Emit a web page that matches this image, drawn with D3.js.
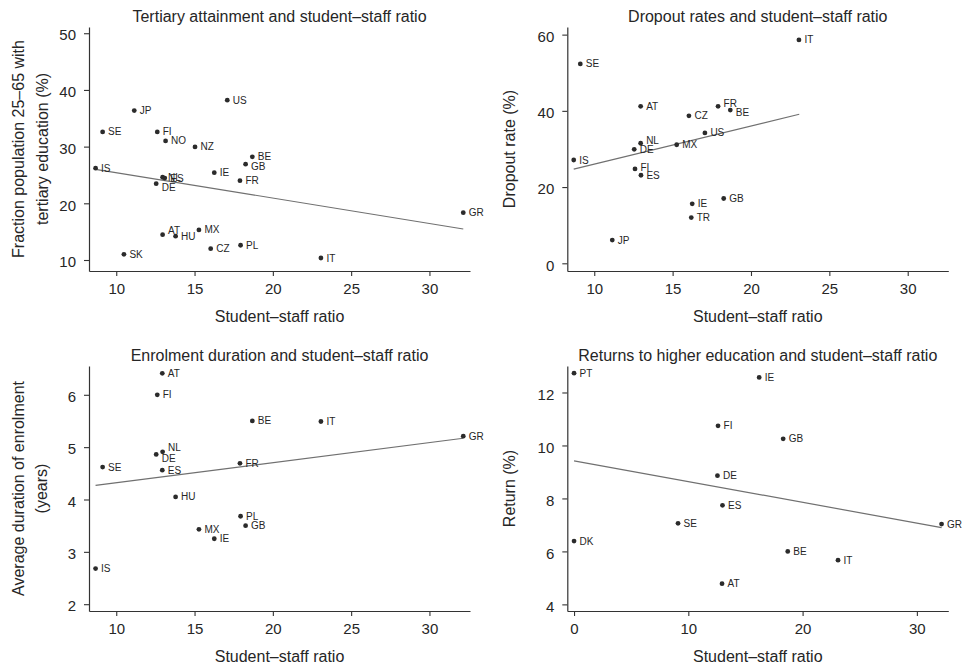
<!DOCTYPE html>
<html>
<head>
<meta charset="utf-8">
<script src="https://cdn.jsdelivr.net/npm/d3@7"></script>
<style>
  body { margin: 0; background: #fff; }
  svg { display: block; font-family: "Liberation Sans", Arial, sans-serif; }
</style>
</head>
<body>
<svg width="964" height="669"></svg>
<script>
const WIDTH = 964;
const HEIGHT = 669;

// Tertiary attainment vs student-staff ratio
const tertCodes = ["US", "JP", "SE", "FI", "NO", "NZ", "BE", "GB", "IS", "IE", "NL", "ES", "DE", "FR", "GR", "AT", "HU", "MX", "CZ", "PL", "SK", "IT"];
const tertRatio = [17.09, 11.15, 9.13, 12.62, 13.15, 15.03, 18.69, 18.26, 8.68, 16.26, 12.96, 13.1, 12.55, 17.90, 32.16, 12.96, 13.79, 15.28, 16.03, 17.94, 10.49, 23.07];
const tertShare = [38.2, 36.35, 32.6, 32.6, 31.0, 29.94, 28.2, 26.9, 26.2, 25.4, 24.6, 24.45, 23.46, 24.0, 18.35, 14.46, 14.2, 15.3, 12.0, 12.6, 11.0, 10.35];
const tertFit = [[8.68, 26.0], [32.16, 15.47]];

// Dropout rates
const dropCodes = ["IT", "SE", "AT", "FR", "BE", "CZ", "US", "NL", "MX", "DE", "IS", "FI", "ES", "GB", "IE", "TR", "JP"];
const dropRatio = [23.06, 9.11, 12.96, 17.90, 18.68, 16.04, 17.06, 12.96, 15.26, 12.55, 8.69, 12.60, 12.98, 18.26, 16.25, 16.19, 11.15];
const dropRate = [58.6, 52.3, 41.2, 41.2, 40.2, 38.7, 34.2, 31.5, 31.1, 29.9, 27.1, 24.75, 23.1, 17.0, 15.6, 12.0, 6.1];
const dropFit = [[8.69, 24.7], [23.08, 39.1]];

// Enrolment duration
const enrolCodes = ["AT", "FI", "BE", "IT", "GR", "NL", "DE", "SE", "ES", "FR", "HU", "PL", "GB", "MX", "IE", "IS"];
const enrolRatio = [12.94, 12.62, 18.69, 23.07, 32.16, 12.96, 12.55, 9.13, 12.94, 17.90, 13.79, 17.94, 18.26, 15.28, 16.26, 8.68];
const enrolYears = [6.41, 6.0, 5.5, 5.49, 5.21, 4.91, 4.86, 4.62, 4.56, 4.69, 4.05, 3.68, 3.5, 3.43, 3.25, 2.68];
const enrolFit = [[8.68, 4.27], [32.16, 5.17]];

// Returns to higher education
const retCodes = ["PT", "IE", "FI", "GB", "DE", "ES", "SE", "GR", "DK", "BE", "IT", "AT"];
const retRatio = [0, 16.2, 12.6, 18.3, 12.55, 12.99, 9.1, 32.16, 0, 18.7, 23.1, 12.95];
const retRate = [12.73, 12.57, 10.74, 10.25, 8.86, 7.74, 7.06, 7.03, 6.39, 6.0, 5.67, 4.78];
const retFit = [[0, 9.42], [32.16, 6.9]];

// tick labels
const ratioTicks = [10, 15, 20, 25, 30];
const ratioTicksWide = [0, 10, 20, 30];
const tertTicks = [10, 20, 30, 40, 50];
const dropTicks = [0, 20, 40, 60];
const enrolTicks = [2, 3, 4, 5, 6];
const retTicks = [4, 6, 8, 10, 12];

// marker labels sit right of the dot; these ones are nudged up or down (px of baseline)
const labelShift = {
    tert: {AT: -0.5, DE: 7.5, GB: 6},
    drop: {FR: 0.5, BE: 6, NL: 1, FI: 2},
    enrol: {NL: -0.5, DE: 7.5},
    ret: {}
};
const LABEL_DY = 3.5;

const LEFT_X = [89, 470];
const RIGHT_X = [567.3, 948.3];
const TOP_Y = [27, 271];
const BOTTOM_Y = [366, 611];

const panels = [
    {key: "tert", title: "Tertiary attainment and student\u2013staff ratio",
     ylabel: ["Fraction population 25\u201365 with", "tertiary education (%)"], ylabelX: [18.5, 42],
     codes: tertCodes, xs: tertRatio, ys: tertShare, fit: tertFit,
     xDomain: [8.26, 32.59], yDomain: [8.06, 51.1], xTicks: ratioTicks, yTicks: tertTicks,
     xr: LEFT_X, yr: TOP_Y},
    {key: "drop", title: "Dropout rates and student\u2013staff ratio",
     ylabel: ["Dropout rate (%)"], ylabelX: [509],
     codes: dropCodes, xs: dropRatio, ys: dropRate, fit: dropFit,
     xDomain: [8.28, 32.59], yDomain: [-2.02, 62.0], xTicks: ratioTicks, yTicks: dropTicks,
     xr: RIGHT_X, yr: TOP_Y},
    {key: "enrol", title: "Enrolment duration and student\u2013staff ratio",
     ylabel: ["Average duration of enrolment", "(years)"], ylabelX: [18.5, 41],
     codes: enrolCodes, xs: enrolRatio, ys: enrolYears, fit: enrolFit,
     xDomain: [8.26, 32.59], yDomain: [1.87, 6.55], xTicks: ratioTicks, yTicks: enrolTicks,
     xr: LEFT_X, yr: BOTTOM_Y},
    {key: "ret", title: "Returns to higher education and student\u2013staff ratio",
     ylabel: ["Return (%)"], ylabelX: [509],
     codes: retCodes, xs: retRatio, ys: retRate, fit: retFit,
     xDomain: [-0.59, 32.75], yDomain: [3.75, 13.0], xTicks: ratioTicksWide, yTicks: retTicks,
     xr: RIGHT_X, yr: BOTTOM_Y}
];

var svg = d3.select("svg")
    .attr("viewBox", `0 0 ${WIDTH} ${HEIGHT}`);

const INK = "#262626";

function styleAxis(sel) {
    sel.select(".domain").attr("stroke", "#333").attr("stroke-width", 1.2);
    sel.selectAll(".tick line").attr("stroke", "#333").attr("stroke-width", 1.1);
    sel.selectAll(".tick text")
        .attr("fill", INK)
        .style("font-size", "15px");
}

panels.forEach(p => {
    let x = d3.scaleLinear().domain(p.xDomain).range(p.xr);
    let y = d3.scaleLinear().domain(p.yDomain).range([p.yr[1], p.yr[0]]);
    let g = svg.append("g").attr("class", "panel-" + p.key);
    let cx = (p.xr[0] + p.xr[1]) / 2;
    let cy = (p.yr[0] + p.yr[1]) / 2;

    // title
    g.append("text")
        .attr("x", cx)
        .attr("y", p.yr[0] - 5)
        .attr("text-anchor", "middle")
        .attr("fill", INK)
        .style("font-size", "16px")
        .text(p.title);

    // axes
    let xAxis = g.append("g")
        .attr("transform", `translate(0,${p.yr[1]})`)
        .call(d3.axisBottom(x).tickValues(p.xTicks).tickFormat(d3.format("d"))
            .tickSize(5).tickSizeOuter(0).tickPadding(7));
    styleAxis(xAxis);

    let yAxis = g.append("g")
        .attr("transform", `translate(${p.xr[0]},0)`)
        .call(d3.axisLeft(y).tickValues(p.yTicks).tickFormat(d3.format("d"))
            .tickSize(5).tickSizeOuter(0).tickPadding(8));
    styleAxis(yAxis);
    yAxis.selectAll(".tick text").attr("dy", "0.45em");

    // axis titles
    g.append("text")
        .attr("x", cx)
        .attr("y", p.yr[1] + 51)
        .attr("text-anchor", "middle")
        .attr("fill", INK)
        .style("font-size", "16px")
        .text("Student\u2013staff ratio");

    p.ylabel.forEach((line, i) => {
        g.append("text")
            .attr("transform", `translate(${p.ylabelX[i]},${cy}) rotate(-90)`)
            .attr("dy", "0.35em")
            .attr("text-anchor", "middle")
            .attr("fill", INK)
            .style("font-size", "16px")
            .text(line);
    });

    // fitted line
    g.append("line")
        .attr("x1", x(p.fit[0][0]))
        .attr("y1", y(p.fit[0][1]))
        .attr("x2", x(p.fit[1][0]))
        .attr("y2", y(p.fit[1][1]))
        .attr("stroke", "#707070")
        .attr("stroke-width", 1.2);

    let pts = p.codes.map((c, i) => ({code: c, x: p.xs[i], y: p.ys[i]}));

    g.selectAll("circle")
        .data(pts)
        .join("circle")
        .attr("cx", d => x(d.x))
        .attr("cy", d => y(d.y))
        .attr("r", 2.4)
        .attr("fill", "#2b2b2b");

    g.selectAll("text.mlabel")
        .data(pts)
        .join("text")
        .attr("class", "mlabel")
        .attr("x", d => x(d.x) + 5.5)
        .attr("y", d => {
            let shift = labelShift[p.key][d.code];
            return y(d.y) + (shift === undefined ? LABEL_DY : shift);
        })
        .attr("fill", INK)
        .style("font-size", "10px")
        .text(d => d.code);
});
</script>
</body>
</html>
